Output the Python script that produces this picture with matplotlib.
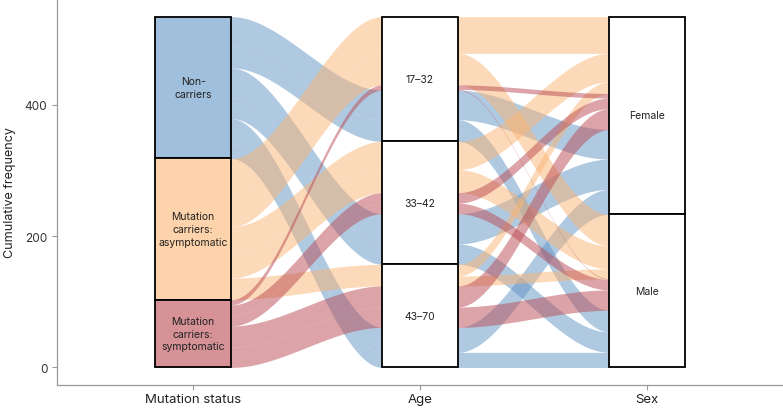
import numpy as np
import matplotlib.pyplot as plt
from matplotlib.colors import to_rgb
from matplotlib.patches import Rectangle

plt.rcParams['font.family'] = ['Inter', 'DejaVu Sans']

axis_names = ["Mutation status", "Age", "Sex"]
status_levels = ["Non-carriers", "Mutation carriers: asymptomatic", "Mutation carriers: symptomatic"]
status_text = ["Non-\ncarriers", "Mutation\ncarriers:\nasymptomatic", "Mutation\ncarriers:\nsymptomatic"]
age_levels = ["17–32", "33–42", "43–70"]
sex_levels = ["Female", "Male"]

# participants per age group (17–32, 33–42, 43–70)
noncarrier_female = [45, 46, 38]
noncarrier_male = [33, 31, 23]
asymptomatic_female = [56, 43, 18]
asymptomatic_male = [48, 35, 15]
symptomatic_female = [7, 16, 32]
symptomatic_male = [1, 16, 31]

colors = ['#6195C5', '#FBB573', '#BA4A52']

counts = {
    (status_levels[0], "Female"): noncarrier_female,
    (status_levels[0], "Male"): noncarrier_male,
    (status_levels[1], "Female"): asymptomatic_female,
    (status_levels[1], "Male"): asymptomatic_male,
    (status_levels[2], "Female"): symptomatic_female,
    (status_levels[2], "Male"): symptomatic_male,
}

# one alluvium per status x age x sex
alluvia = []
for (st, sx), vals in counts.items():
    for ag, n in zip(age_levels, vals):
        alluvia.append({"status": st, "age": ag, "sex": sx, "n": n})

total = sum(a["n"] for a in alluvia)
alpha_status = sorted(status_levels)


def stack(keyfunc):
    # stack lodes from the top down, returns bottom y of each alluvium
    order = sorted(range(len(alluvia)), key=lambda i: keyfunc(alluvia[i]))
    bottoms = [0] * len(alluvia)
    top = total
    for i in order:
        top -= alluvia[i]["n"]
        bottoms[i] = top
    return bottoms


ybot = [
    stack(lambda a: (status_levels.index(a["status"]), age_levels.index(a["age"]), sex_levels.index(a["sex"]))),
    stack(lambda a: (age_levels.index(a["age"]), alpha_status.index(a["status"]), sex_levels.index(a["sex"]))),
    stack(lambda a: (sex_levels.index(a["sex"]), alpha_status.index(a["status"]), age_levels.index(a["age"]))),
]

w = 1 / 3
t = np.linspace(0, 1, 60)
s = t * t * (3 - 2 * t)

fig = plt.figure(figsize=(7.83, 4.10), dpi=100)
ax = fig.add_axes([57 / 783, 24 / 410, 726 / 783, 386 / 410])

for i, a in enumerate(alluvia):
    xs, lo = [], []
    for k in range(3):
        xs += [k + 1 - w / 2, k + 1 + w / 2]
        lo += [ybot[k][i], ybot[k][i]]
        if k < 2:
            xs += list(k + 1 + w / 2 + t[1:-1] * (1 - w))
            lo += list(ybot[k][i] + (ybot[k + 1][i] - ybot[k][i]) * s[1:-1])
    lo = np.array(lo)
    c = colors[status_levels.index(a["status"])]
    ax.fill_between(xs, lo, lo + a["n"], color=c, alpha=0.5, lw=0, zorder=1)


def blend(c, al):
    r = np.array(to_rgb(c))
    return tuple(1 - al * (1 - r))


strata = [
    ("status", status_levels, status_text),
    ("age", age_levels, age_levels),
    ("sex", sex_levels, sex_levels),
]
for k, (var, levels, texts) in enumerate(strata):
    y = total
    for j, (lev, txt) in enumerate(zip(levels, texts)):
        n = sum(a["n"] for a in alluvia if a[var] == lev)
        y -= n
        fc = blend(colors[j], 0.6) if k == 0 else 'white'
        ax.add_patch(Rectangle((k + 1 - w / 2, y), w, n, facecolor=fc,
                               edgecolor='black', lw=1.3, zorder=3))
        ax.text(k + 1, y + n / 2, txt, ha='center', va='center', fontsize=7.5,
                color='#222222', linespacing=1.35, zorder=4)

ax.set_xlim(0.4, 3.6)
ax.set_ylim(-0.05 * total, 1.05 * total)
ax.set_xticks([1, 2, 3], axis_names)
ax.set_yticks([0, 200, 400])
ax.set_ylabel("Cumulative frequency", fontsize=9, color='#222222', labelpad=6)
for sp in ['top', 'right']:
    ax.spines[sp].set_visible(False)
for sp in ['left', 'bottom']:
    ax.spines[sp].set_color('#999999')
    ax.spines[sp].set_linewidth(0.9)
ax.tick_params(axis='both', colors='#999999', length=3.5, width=0.8)
ax.tick_params(axis='y', labelsize=8.5, labelcolor='#333333')
ax.tick_params(axis='x', labelsize=9.5, labelcolor='#222222', pad=2)

fig.savefig("out.png", dpi=100)
